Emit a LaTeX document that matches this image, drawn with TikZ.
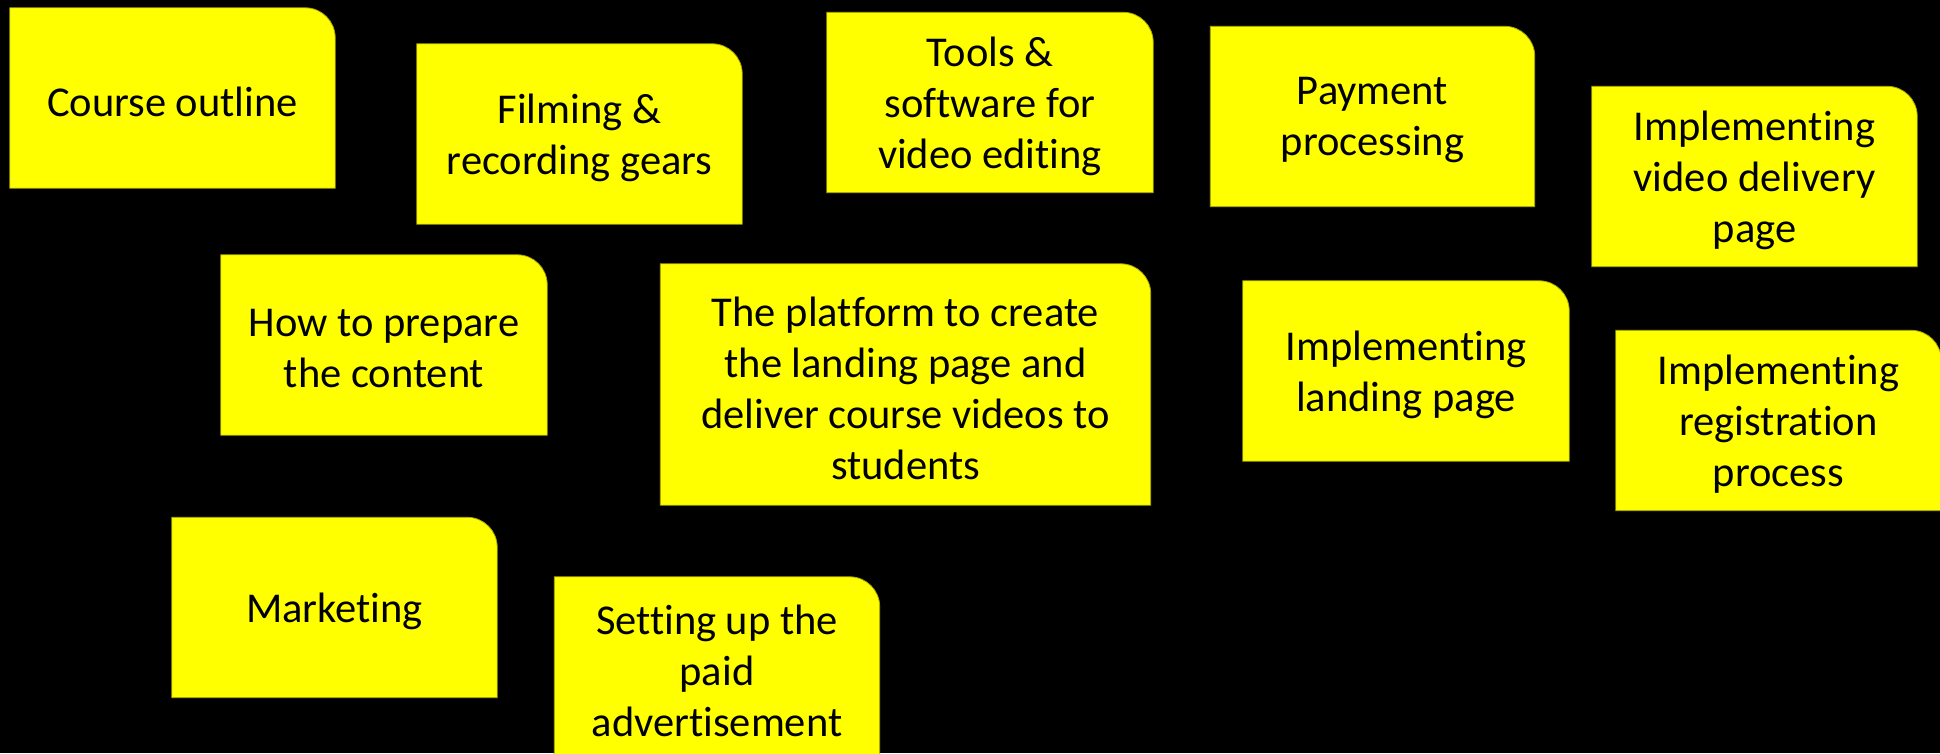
\documentclass[tikz,border=0pt]{standalone}
\usepackage{fontspec}
\setmainfont{Carlito}[Ligatures=NoCommon]
\pgfdeclarelayer{bg}
\pgfsetlayers{bg,main}
\definecolor{noteyellow}{RGB}{255,255,0}
\definecolor{noteedge}{RGB}{170,170,0}
\tikzset{
  note/.style={inner sep=0pt, align=center, text=black,
    font=\fontsize{42.5}{51}\selectfont},
  notefill/.style={fill=noteyellow, draw=noteedge, line width=0.8pt}
}
% box is drawn 4pt above the text node so that the text sits slightly low
\newcommand{\notebox}[1]{%
  \begin{pgfonlayer}{bg}
    \path[notefill] ([yshift=4pt]#1.south west) -- ([yshift=4pt]#1.north west)
      -- ([xshift=-30pt,yshift=4pt]#1.north east) arc[start angle=90, end angle=0, radius=30pt]
      -- ([yshift=4pt]#1.south east) -- cycle;
  \end{pgfonlayer}}
\begin{document}
\begin{tikzpicture}[x=1pt,y=-1pt]
\begin{pgfonlayer}{bg}
\fill[black] (0,0) rectangle (1940,753);
\end{pgfonlayer}
\useasboundingbox (0,0) rectangle (1940,753);
\node[note, minimum width=325pt, minimum height=180pt] (course) at (172.5,102) {Course outline};
\node[note, minimum width=325pt, minimum height=180pt] (filming) at (579.5,138) {Filming \&\\recording gears};
\node[note, minimum width=326pt, minimum height=180pt] (tools) at (990,106.5) {Tools \&\\software for\\video editing};
\node[note, minimum width=324pt, minimum height=180pt] (payment) at (1372.5,120.5) {Payment\\processing};
\node[note, minimum width=325pt, minimum height=180pt] (video) at (1754.5,180.5) {Implementing\\video delivery\\page};
\node[note, minimum width=326pt, minimum height=180pt] (howto) at (384,349) {How to prepare\\the content};
\node[note, minimum width=490pt, minimum height=241pt] (platform) at (905.5,388.5) {The platform to create\\the landing page and\\deliver course videos to\\students};
\node[note, minimum width=326pt, minimum height=180pt] (landing) at (1406,375) {Implementing\\landing page};
\node[note, minimum width=325pt, minimum height=180pt] (registration) at (1778.5,424.5) {Implementing\\registration\\process};
\node[note, minimum width=325pt, minimum height=180pt] (marketing) at (334.5,611.5) {Marketing};
\node[note, minimum width=325pt, minimum height=180pt] (ad) at (717,671) {Setting up the\\paid\\advertisement};
\notebox{course}
\notebox{filming}
\notebox{tools}
\notebox{payment}
\notebox{video}
\notebox{howto}
\notebox{platform}
\notebox{landing}
\notebox{registration}
\notebox{marketing}
\notebox{ad}
\end{tikzpicture}
\end{document}
